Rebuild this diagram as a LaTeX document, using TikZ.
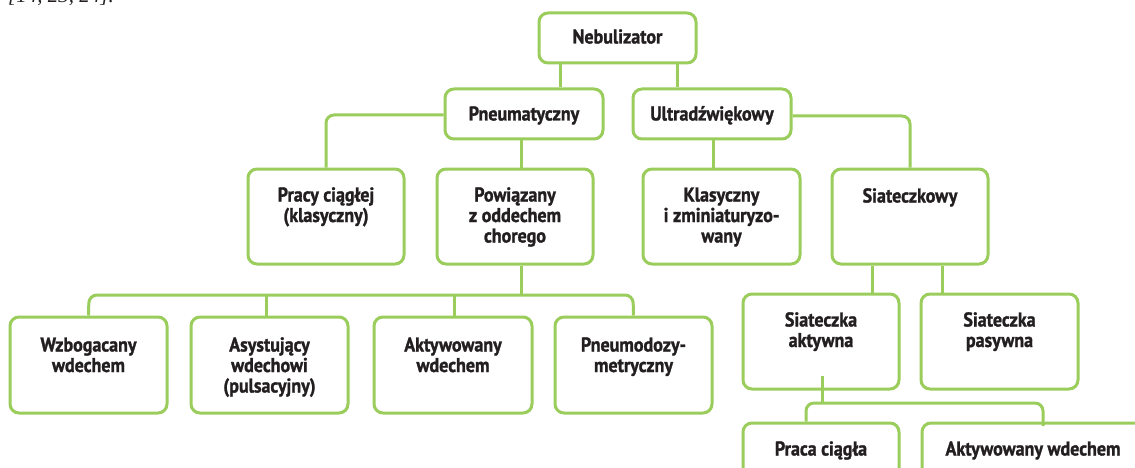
\documentclass[tikz,border=0pt]{standalone}
\usepackage{fontspec}
\newfontfamily\boxfont{PT Sans}[FakeStretch=0.9,FakeBold=1.3]
\newfontfamily\citefont{Liberation Serif}
\definecolor{lgreen}{RGB}{154,205,92}
\definecolor{textc}{RGB}{35,31,32}
\newcommand{\ml}[1]{\begin{tabular}[t]{@{}c@{}}#1\end{tabular}}
\tikzset{
  box/.style={draw=lgreen, line width=3pt, rounded corners=9pt, inner sep=0pt, fill=white},
  hbox/.style={box, minimum height=50pt},
  tbox/.style={box, minimum height=95pt},
  txt/.style={font=\boxfont\bfseries\fontsize{20}{20.5}\selectfont, text=textc, inner sep=0pt, anchor=base},
  conn/.style={draw=lgreen, line width=3pt, rounded corners=8pt},
}
\begin{document}
\begin{tikzpicture}[x=1pt,y=-1pt]
\useasboundingbox (0,0) rectangle (1135,468);
% citation, cut off at the top edge as in the reference
\node[font=\citefont\itshape\fontsize{21}{24}\selectfont, text=textc, anchor=base west, inner sep=0pt] (cite) at (8,3) {[14, 23, 24].};
\coordinate (barL) at (89,295);
\coordinate (barR) at (633,295);
\coordinate (bar2L) at (806,403);
\coordinate (bar2R) at (1043,403);
% boxes
\node[hbox, minimum width=157pt] (neb) at (617.5,38) {};
\node[hbox, minimum width=158pt] (pneu) at (524,114) {};
\node[hbox, minimum width=158pt] (ultra) at (712,114) {};
\node[tbox, minimum width=156pt] (pracy) at (326,216.5) {};
\node[tbox, minimum width=156pt] (powi) at (515,216.5) {};
\node[tbox, minimum width=157pt] (klas) at (721.5,216.5) {};
\node[tbox, minimum width=156pt] (siat) at (910,216.5) {};
\node[tbox, minimum width=157pt, minimum height=96pt] (wzb) at (88.5,365) {};
\node[tbox, minimum width=157pt, minimum height=96pt] (asy) at (269.5,365) {};
\node[tbox, minimum width=158pt, minimum height=96pt] (akt) at (453,365) {};
\node[tbox, minimum width=157pt, minimum height=96pt] (pnd) at (633.5,365) {};
\node[tbox, minimum width=156pt] (sa) at (821,341.5) {};
\node[tbox, minimum width=157pt] (sp) at (999.5,341.5) {};
\node[tbox, minimum width=156pt] (praca) at (821,470.5) {};
\node[tbox, minimum width=222pt] (aw) at (1033,470.5) {};
% connectors
\draw[conn] (neb.south -| 560,0) -- (pneu.north -| 560,0);
\draw[conn] (neb.south -| 677,0) -- (ultra.north -| 677,0);
\draw[conn] (pneu.west |- 0,115) -| (pracy.north);
\draw[conn] (pneu.south -| 521,0) -- (powi.north -| 521,0);
\draw[conn] (ultra.south -| 713,0) -- (klas.north -| 713,0);
\draw[conn] (ultra.east |- 0,116) -| (siat.north);
\draw[conn] (powi.south -| 521,0) -- (barL -| 521,0);
\draw[conn] (wzb.north) -- (barL) -- (barR) -- (pnd.north);
\draw[conn] (barL -| 266,0) -- (asy.north -| 266,0);
\draw[conn] (barL -| 454,0) -- (akt.north -| 454,0);
\draw[conn] (siat.south -| 872,0) -- (sa.north -| 872,0);
\draw[conn] (siat.south -| 942,0) -- (sp.north -| 942,0);
\draw[conn] (822,376) -- (bar2L -| 822,0);
\draw[conn] (praca.north -| bar2L) -- (bar2L) -- (bar2R) -- (1043,426);
% texts
\node[txt] (neb-t) at ([yshift=-32pt]neb.north) {Nebulizator};
\node[txt] (pneu-t) at ([yshift=-33pt]pneu.north) {Pneumatyczny};
\node[txt] (ultra-t) at ([yshift=-33pt]ultra.north) {Ultradźwiękowy};
\node[txt] (pracy-t) at ([yshift=-34pt]pracy.north) {\ml{Pracy ciągłej\\(klasyczny)}};
\node[txt] (powi-t) at ([yshift=-34pt]powi.north) {\ml{Powiązany\\z oddechem\\chorego}};
\node[txt] (klas-t) at ([yshift=-34pt]klas.north) {\ml{Klasyczny\\i zminiaturyzo-\\wany}};
\node[txt] (siat-t) at ([yshift=-35pt]siat.north) {Siateczkowy};
\node[txt] (wzb-t) at ([yshift=-36pt]wzb.north) {\ml{Wzbogacany\\wdechem}};
\node[txt] (asy-t) at ([yshift=-36pt]asy.north) {\ml{Asystujący\\wdechowi\\(pulsacyjny)}};
\node[txt] (akt-t) at ([yshift=-36pt]akt.north) {\ml{Aktywowany\\wdechem}};
\node[txt] (pnd-t) at ([yshift=-36pt]pnd.north) {\ml{Pneumodozy-\\metryczny}};
\node[txt] (sa-t) at ([yshift=-34pt]sa.north) {\ml{Siateczka\\aktywna}};
\node[txt] (sp-t) at ([yshift=-34pt]sp.north) {\ml{Siateczka\\pasywna}};
\node[txt] (praca-t) at ([yshift=-34pt]praca.north) {Praca ciągła};
\node[txt] (aw-t) at ([yshift=-34pt]aw.north) {Aktywowany wdechem};
\end{tikzpicture}
\end{document}
